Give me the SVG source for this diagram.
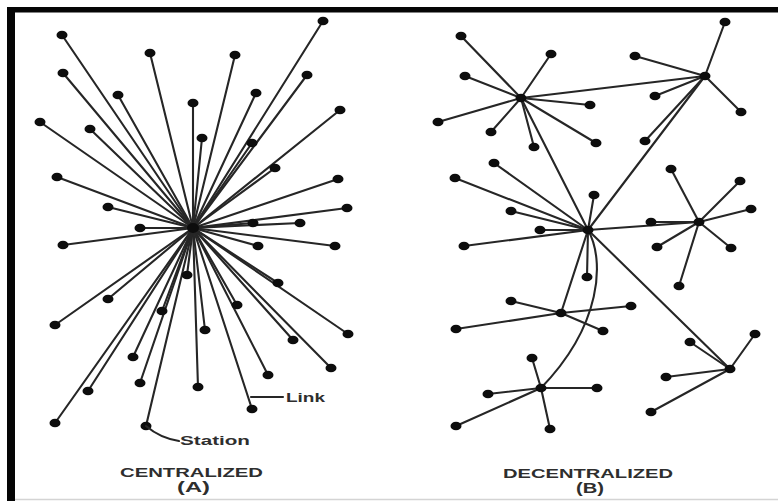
<svg xmlns="http://www.w3.org/2000/svg" width="778" height="501" viewBox="0 0 778 501">
  <style>
    .ln { stroke: #262626; stroke-width: 2.1; fill: none; stroke-linecap: round; }
    .st { fill: #0d0d0d; }
    .hub { fill: #0d0d0d; }
    .lbl { font-family: "Liberation Sans", Arial, sans-serif; font-weight: bold; fill: #2e2e2e; }
  </style>
  <defs>
    <ellipse id="dot" cx="0" cy="0" rx="5.5" ry="4.3" class="st"/>
  </defs>

  <!-- page and frame -->
  <rect x="0" y="0" width="778" height="501" fill="#ffffff"/>
  <rect x="7" y="7" width="771" height="5.5" fill="#050505"/>
  <rect x="7" y="7" width="8" height="494" fill="#050505"/>
  <line x1="15" y1="499.5" x2="778" y2="499.5" stroke="#d4d4d4" stroke-width="1.5"/>

  <!-- links -->
  <g id="connectors">
    <!-- (A) centralized: every station wired to one hub -->
    <g id="links-a">
      <line class="ln" x1="193" y1="228" x2="62" y2="35"/>
      <line class="ln" x1="193" y1="228" x2="150" y2="53"/>
      <line class="ln" x1="193" y1="228" x2="235" y2="55"/>
      <line class="ln" x1="193" y1="228" x2="323" y2="21"/>
      <line class="ln" x1="193" y1="228" x2="63" y2="73"/>
      <line class="ln" x1="193" y1="228" x2="118" y2="95"/>
      <line class="ln" x1="193" y1="228" x2="193" y2="103"/>
      <line class="ln" x1="193" y1="228" x2="256" y2="93"/>
      <line class="ln" x1="193" y1="228" x2="307" y2="75"/>
      <line class="ln" x1="193" y1="228" x2="40" y2="122"/>
      <line class="ln" x1="193" y1="228" x2="90" y2="129"/>
      <line class="ln" x1="193" y1="228" x2="202" y2="138"/>
      <line class="ln" x1="193" y1="228" x2="252" y2="143"/>
      <line class="ln" x1="193" y1="228" x2="340" y2="110"/>
      <line class="ln" x1="193" y1="228" x2="57" y2="177"/>
      <line class="ln" x1="193" y1="228" x2="275" y2="168"/>
      <line class="ln" x1="193" y1="228" x2="338" y2="179"/>
      <line class="ln" x1="193" y1="228" x2="108" y2="207"/>
      <line class="ln" x1="193" y1="228" x2="347" y2="208"/>
      <line class="ln" x1="193" y1="228" x2="140" y2="228"/>
      <line class="ln" x1="193" y1="228" x2="253" y2="223"/>
      <line class="ln" x1="193" y1="228" x2="300" y2="223"/>
      <line class="ln" x1="193" y1="228" x2="63" y2="245"/>
      <line class="ln" x1="193" y1="228" x2="258" y2="246"/>
      <line class="ln" x1="193" y1="228" x2="335" y2="246"/>
      <line class="ln" x1="193" y1="228" x2="278" y2="283"/>
      <line class="ln" x1="193" y1="228" x2="108" y2="299"/>
      <line class="ln" x1="193" y1="228" x2="55" y2="325"/>
      <line class="ln" x1="193" y1="228" x2="162" y2="311"/>
      <line class="ln" x1="193" y1="228" x2="187" y2="275"/>
      <line class="ln" x1="193" y1="228" x2="237" y2="305"/>
      <line class="ln" x1="193" y1="228" x2="205" y2="330"/>
      <line class="ln" x1="193" y1="228" x2="348" y2="334"/>
      <line class="ln" x1="193" y1="228" x2="293" y2="340"/>
      <line class="ln" x1="193" y1="228" x2="133" y2="357"/>
      <line class="ln" x1="193" y1="228" x2="331" y2="368"/>
      <line class="ln" x1="193" y1="228" x2="268" y2="375"/>
      <line class="ln" x1="193" y1="228" x2="140" y2="383"/>
      <line class="ln" x1="193" y1="228" x2="198" y2="387"/>
      <line class="ln" x1="193" y1="228" x2="88" y2="391"/>
      <line class="ln" x1="193" y1="228" x2="252" y2="409"/>
      <line class="ln" x1="193" y1="228" x2="55" y2="423"/>
      <line class="ln" x1="193" y1="228" x2="146" y2="426"/>
    </g>
    <!-- (B) decentralized: clusters around several hubs -->
    <g id="links-b">
      <!-- hub A -->
      <line class="ln" x1="521" y1="98" x2="461" y2="36"/>
      <line class="ln" x1="521" y1="98" x2="551" y2="54"/>
      <line class="ln" x1="521" y1="98" x2="465" y2="76"/>
      <line class="ln" x1="521" y1="98" x2="438" y2="122"/>
      <line class="ln" x1="521" y1="98" x2="491" y2="132"/>
      <line class="ln" x1="521" y1="98" x2="534" y2="147"/>
      <line class="ln" x1="521" y1="98" x2="590" y2="105"/>
      <line class="ln" x1="521" y1="98" x2="596" y2="143"/>
      <line class="ln" x1="521" y1="98" x2="705" y2="76"/>
      <line class="ln" x1="521" y1="98" x2="588" y2="230"/>
      <!-- hub B -->
      <line class="ln" x1="705" y1="76" x2="725" y2="22"/>
      <line class="ln" x1="705" y1="76" x2="635" y2="56"/>
      <line class="ln" x1="705" y1="76" x2="655" y2="96"/>
      <line class="ln" x1="705" y1="76" x2="741" y2="112"/>
      <line class="ln" x1="705" y1="76" x2="645" y2="141"/>
      <line class="ln" x1="705" y1="76" x2="588" y2="230"/>
      <!-- hub C -->
      <line class="ln" x1="588" y1="230" x2="494" y2="163"/>
      <line class="ln" x1="588" y1="230" x2="455" y2="178"/>
      <line class="ln" x1="588" y1="230" x2="511" y2="211"/>
      <line class="ln" x1="588" y1="230" x2="540" y2="230"/>
      <line class="ln" x1="588" y1="230" x2="464" y2="246"/>
      <line class="ln" x1="588" y1="230" x2="594" y2="195"/>
      <line class="ln" x1="588" y1="230" x2="587" y2="277"/>
      <line class="ln" x1="588" y1="230" x2="699" y2="222"/>
      <line class="ln" x1="588" y1="230" x2="730" y2="369"/>
      <line class="ln" x1="588" y1="230" x2="561" y2="313"/>
      <path class="ln" d="M588,230 C605,260 602,325 541,388"/>
      <!-- hub D -->
      <line class="ln" x1="699" y1="222" x2="671" y2="169"/>
      <line class="ln" x1="699" y1="222" x2="740" y2="181"/>
      <line class="ln" x1="699" y1="222" x2="751" y2="209"/>
      <line class="ln" x1="699" y1="222" x2="651" y2="222"/>
      <line class="ln" x1="699" y1="222" x2="657" y2="247"/>
      <line class="ln" x1="699" y1="222" x2="731" y2="248"/>
      <line class="ln" x1="699" y1="222" x2="679" y2="286"/>
      <!-- hub E -->
      <line class="ln" x1="561" y1="313" x2="511" y2="301"/>
      <line class="ln" x1="561" y1="313" x2="631" y2="306"/>
      <line class="ln" x1="561" y1="313" x2="456" y2="329"/>
      <line class="ln" x1="561" y1="313" x2="603" y2="331"/>
      <!-- hub F -->
      <line class="ln" x1="541" y1="388" x2="532" y2="358"/>
      <line class="ln" x1="541" y1="388" x2="488" y2="394"/>
      <line class="ln" x1="541" y1="388" x2="597" y2="388"/>
      <line class="ln" x1="541" y1="388" x2="456" y2="426"/>
      <line class="ln" x1="541" y1="388" x2="550" y2="429"/>
      <!-- hub G -->
      <line class="ln" x1="730" y1="369" x2="755" y2="334"/>
      <line class="ln" x1="730" y1="369" x2="690" y2="342"/>
      <line class="ln" x1="730" y1="369" x2="666" y2="377"/>
      <line class="ln" x1="730" y1="369" x2="651" y2="412"/>
    </g>
  </g>

  <!-- (A) stations -->
  <g id="a-hub"><ellipse cx="193" cy="228" rx="6" ry="5" class="hub"/></g>
  <g id="a-n01"><use href="#dot" x="62" y="35"/></g>
  <g id="a-n02"><use href="#dot" x="150" y="53"/></g>
  <g id="a-n03"><use href="#dot" x="235" y="55"/></g>
  <g id="a-n04"><use href="#dot" x="323" y="21"/></g>
  <g id="a-n05"><use href="#dot" x="63" y="73"/></g>
  <g id="a-n06"><use href="#dot" x="118" y="95"/></g>
  <g id="a-n07"><use href="#dot" x="193" y="103"/></g>
  <g id="a-n08"><use href="#dot" x="256" y="93"/></g>
  <g id="a-n09"><use href="#dot" x="307" y="75"/></g>
  <g id="a-n10"><use href="#dot" x="40" y="122"/></g>
  <g id="a-n11"><use href="#dot" x="90" y="129"/></g>
  <g id="a-n12"><use href="#dot" x="202" y="138"/></g>
  <g id="a-n13"><use href="#dot" x="252" y="143"/></g>
  <g id="a-n14"><use href="#dot" x="340" y="110"/></g>
  <g id="a-n15"><use href="#dot" x="57" y="177"/></g>
  <g id="a-n16"><use href="#dot" x="275" y="168"/></g>
  <g id="a-n17"><use href="#dot" x="338" y="179"/></g>
  <g id="a-n18"><use href="#dot" x="108" y="207"/></g>
  <g id="a-n19"><use href="#dot" x="347" y="208"/></g>
  <g id="a-n20"><use href="#dot" x="140" y="228"/></g>
  <g id="a-n21"><use href="#dot" x="253" y="223"/></g>
  <g id="a-n22"><use href="#dot" x="300" y="223"/></g>
  <g id="a-n23"><use href="#dot" x="63" y="245"/></g>
  <g id="a-n24"><use href="#dot" x="258" y="246"/></g>
  <g id="a-n25"><use href="#dot" x="335" y="246"/></g>
  <g id="a-n26"><use href="#dot" x="278" y="283"/></g>
  <g id="a-n27"><use href="#dot" x="108" y="299"/></g>
  <g id="a-n28"><use href="#dot" x="55" y="325"/></g>
  <g id="a-n29"><use href="#dot" x="162" y="311"/></g>
  <g id="a-n30"><use href="#dot" x="187" y="275"/></g>
  <g id="a-n31"><use href="#dot" x="237" y="305"/></g>
  <g id="a-n32"><use href="#dot" x="205" y="330"/></g>
  <g id="a-n33"><use href="#dot" x="348" y="334"/></g>
  <g id="a-n34"><use href="#dot" x="293" y="340"/></g>
  <g id="a-n35"><use href="#dot" x="133" y="357"/></g>
  <g id="a-n36"><use href="#dot" x="331" y="368"/></g>
  <g id="a-n37"><use href="#dot" x="268" y="375"/></g>
  <g id="a-n38"><use href="#dot" x="140" y="383"/></g>
  <g id="a-n39"><use href="#dot" x="198" y="387"/></g>
  <g id="a-n40"><use href="#dot" x="88" y="391"/></g>
  <g id="a-n41"><use href="#dot" x="252" y="409"/></g>
  <g id="a-n42"><use href="#dot" x="55" y="423"/></g>
  <g id="a-n43"><use href="#dot" x="146" y="426"/></g>

  <!-- (B) hubs -->
  <g id="b-hubA"><use href="#dot" x="521" y="98"/></g>
  <g id="b-hubB"><use href="#dot" x="705" y="76"/></g>
  <g id="b-hubC"><use href="#dot" x="588" y="230"/></g>
  <g id="b-hubD"><use href="#dot" x="699" y="222"/></g>
  <g id="b-hubE"><use href="#dot" x="561" y="313"/></g>
  <g id="b-hubF"><use href="#dot" x="541" y="388"/></g>
  <g id="b-hubG"><use href="#dot" x="730" y="369"/></g>
  <!-- (B) stations -->
  <g id="b-n01"><use href="#dot" x="461" y="36"/></g>
  <g id="b-n02"><use href="#dot" x="551" y="54"/></g>
  <g id="b-n03"><use href="#dot" x="465" y="76"/></g>
  <g id="b-n04"><use href="#dot" x="438" y="122"/></g>
  <g id="b-n05"><use href="#dot" x="491" y="132"/></g>
  <g id="b-n06"><use href="#dot" x="534" y="147"/></g>
  <g id="b-n07"><use href="#dot" x="590" y="105"/></g>
  <g id="b-n08"><use href="#dot" x="596" y="143"/></g>
  <g id="b-n09"><use href="#dot" x="725" y="22"/></g>
  <g id="b-n10"><use href="#dot" x="635" y="56"/></g>
  <g id="b-n11"><use href="#dot" x="655" y="96"/></g>
  <g id="b-n12"><use href="#dot" x="741" y="112"/></g>
  <g id="b-n13"><use href="#dot" x="645" y="141"/></g>
  <g id="b-n14"><use href="#dot" x="494" y="163"/></g>
  <g id="b-n15"><use href="#dot" x="455" y="178"/></g>
  <g id="b-n16"><use href="#dot" x="511" y="211"/></g>
  <g id="b-n17"><use href="#dot" x="540" y="230"/></g>
  <g id="b-n18"><use href="#dot" x="464" y="246"/></g>
  <g id="b-n19"><use href="#dot" x="594" y="195"/></g>
  <g id="b-n20"><use href="#dot" x="587" y="277"/></g>
  <g id="b-n21"><use href="#dot" x="671" y="169"/></g>
  <g id="b-n22"><use href="#dot" x="740" y="181"/></g>
  <g id="b-n23"><use href="#dot" x="751" y="209"/></g>
  <g id="b-n24"><use href="#dot" x="651" y="222"/></g>
  <g id="b-n25"><use href="#dot" x="657" y="247"/></g>
  <g id="b-n26"><use href="#dot" x="731" y="248"/></g>
  <g id="b-n27"><use href="#dot" x="679" y="286"/></g>
  <g id="b-n28"><use href="#dot" x="511" y="301"/></g>
  <g id="b-n29"><use href="#dot" x="631" y="306"/></g>
  <g id="b-n30"><use href="#dot" x="456" y="329"/></g>
  <g id="b-n31"><use href="#dot" x="603" y="331"/></g>
  <g id="b-n32"><use href="#dot" x="532" y="358"/></g>
  <g id="b-n33"><use href="#dot" x="488" y="394"/></g>
  <g id="b-n34"><use href="#dot" x="597" y="388"/></g>
  <g id="b-n35"><use href="#dot" x="456" y="426"/></g>
  <g id="b-n36"><use href="#dot" x="550" y="429"/></g>
  <g id="b-n37"><use href="#dot" x="755" y="334"/></g>
  <g id="b-n38"><use href="#dot" x="690" y="342"/></g>
  <g id="b-n39"><use href="#dot" x="666" y="377"/></g>
  <g id="b-n40"><use href="#dot" x="651" y="412"/></g>

  <!-- callouts -->
  <g id="callouts">
    <line class="ln" x1="251" y1="397" x2="283" y2="397"/>
    <path class="ln" d="M146,426 Q160,438 179,441"/>
    <text class="lbl" x="286" y="402" font-size="12" textLength="39" lengthAdjust="spacingAndGlyphs">Link</text>
    <text class="lbl" x="180" y="445" font-size="12" textLength="70" lengthAdjust="spacingAndGlyphs">Station</text>
  </g>

  <!-- captions -->
  <g id="captions">
    <text class="lbl" x="120" y="477" font-size="13" textLength="143" lengthAdjust="spacingAndGlyphs">CENTRALIZED</text>
    <text class="lbl" x="177" y="492" font-size="14" textLength="33" lengthAdjust="spacingAndGlyphs">(A)</text>
    <text class="lbl" x="503" y="478" font-size="13" textLength="170" lengthAdjust="spacingAndGlyphs">DECENTRALIZED</text>
    <text class="lbl" x="576" y="493" font-size="14" textLength="28" lengthAdjust="spacingAndGlyphs">(B)</text>
  </g>
</svg>
